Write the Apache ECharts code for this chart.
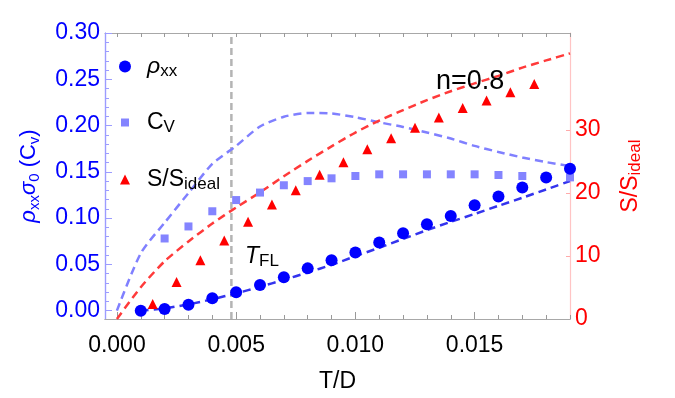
<!DOCTYPE html>
<html>
<head>
<meta charset="utf-8">
<script src="https://cdn.jsdelivr.net/npm/echarts@6/dist/echarts.min.js"></script>
<style>
  html, body { margin: 0; padding: 0; background: #fff; }
  #chart { width: 675px; height: 398px; }
</style>
</head>
<body>
<div id="chart"></div>
<script>
// values
const tRho = [0.001, 0.002, 0.003, 0.004, 0.005, 0.006, 0.007, 0.008, 0.009, 0.010,
  0.011, 0.012, 0.013, 0.014, 0.015, 0.016, 0.017, 0.018, 0.019];
const rho = [0.000, 0.0018, 0.0065, 0.0134, 0.0198, 0.0277, 0.036, 0.0457, 0.0546, 0.0629,
  0.0737, 0.0837, 0.0934, 0.1024, 0.1139, 0.1233, 0.133, 0.1438, 0.1534];
const rhoFit = [0.000, 0.0025, 0.0068, 0.0124, 0.0187, 0.0258, 0.0333, 0.0412, 0.0495, 0.0588,
  0.068, 0.0775, 0.087, 0.096, 0.1045, 0.1133, 0.122, 0.131, 0.140];

const tCv = [0.002, 0.003, 0.004, 0.005, 0.006, 0.007, 0.008, 0.009, 0.010,
  0.011, 0.012, 0.013, 0.014, 0.015, 0.016, 0.017, 0.018, 0.019];
const cv = [0.078, 0.091, 0.1074, 0.1195, 0.1276, 0.1355, 0.140, 0.143, 0.1455,
  0.1473, 0.1473, 0.1473, 0.1473, 0.1473, 0.1466, 0.1455, 0.1446, 0.144];

const tFit = [0, 0.001, 0.002, 0.003, 0.004, 0.005, 0.006, 0.007, 0.008, 0.009, 0.010,
  0.011, 0.012, 0.013, 0.014, 0.015, 0.016, 0.017, 0.018, 0.019];
const cvFit = [0, 0.062, 0.095, 0.127, 0.1585, 0.178, 0.199, 0.2095, 0.2135, 0.213, 0.209,
  0.2035, 0.1985, 0.1925, 0.186, 0.178, 0.1715, 0.1655, 0.1605, 0.1562];
const sFit = [0, 5.05, 9.16, 12.3, 15.16, 17.7, 20.1, 22.66, 25.1, 27.4, 29.6,
  31.5, 33.16, 34.74, 36.16, 37.4, 38.6, 39.9, 41.05, 42.16];

const tS = [0.0015, 0.0025, 0.0035, 0.0045, 0.0055, 0.0065, 0.0075, 0.0085, 0.0095,
  0.0105, 0.0115, 0.0125, 0.0135, 0.0145, 0.0155, 0.0165, 0.0175];
const sRatio = [2.37, 5.89, 9.32, 12.47, 15.43, 18.16, 20.42, 22.9, 24.9,
  26.95, 28.7, 30.37, 32.0, 33.5, 34.7, 36.0, 37.3];

const tFL = 0.0048;

// ticks
const xMajor = [0, 0.005, 0.010, 0.015];
const xMinor = tFit;
const yMajor = [0, 0.05, 0.10, 0.15, 0.20, 0.25, 0.30];
const yMinor = [0, 0.01, 0.02, 0.03, 0.04, 0.05, 0.06, 0.07, 0.08, 0.09, 0.10,
  0.11, 0.12, 0.13, 0.14, 0.15, 0.16, 0.17, 0.18, 0.19, 0.20,
  0.21, 0.22, 0.23, 0.24, 0.25, 0.26, 0.27, 0.28, 0.29, 0.30];
const sMajor = [0, 10, 20, 30];
const sTicks = [10, 20, 30];

const xRange = [-0.0005, 0.019];
const yRange = [-0.009, 0.30];
const sRange = [0, 45.4];

const FONT = "'Liberation Sans', Arial, sans-serif";
const pairs = (xs, ys) => xs.map((x, i) => [x, ys[i]]);

const subRich = (color, main, sub) => ({
  m: { fontSize: main, lineHeight: 26, color, fontFamily: FONT },
  i: { fontSize: main, lineHeight: 26, color, fontFamily: FONT, fontStyle: 'italic' },
  s: { fontSize: sub, lineHeight: 8, color, fontFamily: FONT, verticalAlign: 'bottom' }
});

const legendLabels = {
  rho: '{g|}{i|ρ}{s|xx}',
  cv: '{g|}{m|C}{s|V}',
  s: '{g|}{m|S/S}{s|ideal}'
};
const makeLegend = (name, icon, size, cy) => ({
  orient: 'vertical',
  left: 125 - size / 2,
  top: cy - 13,
  padding: 0,
  itemWidth: size,
  itemHeight: size,
  selectedMode: false,
  data: [{ name, icon }],
  formatter: (n) => legendLabels[n],
  textStyle: {
    rich: Object.assign(subRich('#000', 23, 17), { g: { width: 17 - size / 2 } })
  }
});

const chart = echarts.init(document.getElementById('chart'));

const xBase = {
  type: 'value', min: xRange[0], max: xRange[1],
  splitLine: { show: false },
  axisLine: { show: true, onZero: false, lineStyle: { color: '#a8a8a8', width: 1 } }
};
const yBase = {
  type: 'value', min: yRange[0], max: yRange[1], position: 'left',
  splitLine: { show: false },
  axisLine: { show: true, onZero: false, lineStyle: { color: '#9c9cff', width: 1.2 } }
};

chart.setOption({
  animation: false,
  backgroundColor: '#fff',
  grid: { left: 105, right: 105, top: 33, bottom: 78 },
  legend: [
    makeLegend('rho', 'circle', 12, 68),
    makeLegend('cv', 'rect', 8, 124),
    makeLegend('s', 'triangle', 10, 181)
  ],
  xAxis: [
    Object.assign({}, xBase, {
      position: 'bottom',
      axisTick: { show: true, inside: true, length: 7, customValues: xMajor, lineStyle: { color: '#999' } },
      axisLabel: {
        customValues: xMajor, formatter: (v) => v.toFixed(3),
        color: '#000', fontSize: 23, margin: 15, fontFamily: FONT
      },
      name: 'T/D', nameLocation: 'middle', nameGap: 51,
      nameTextStyle: { color: '#000', fontSize: 23, fontFamily: FONT }
    }),
    Object.assign({}, xBase, {
      position: 'bottom',
      axisTick: { show: true, inside: true, length: 4, customValues: xMinor, lineStyle: { color: '#999' } },
      axisLabel: { show: false }
    }),
    Object.assign({}, xBase, {
      position: 'top',
      axisTick: { show: true, inside: true, length: 4, customValues: xMinor, lineStyle: { color: '#999' } },
      axisLabel: { show: false }
    })
  ],
  yAxis: [
    Object.assign({}, yBase, {
      axisTick: { show: true, inside: true, length: 7, customValues: yMajor, lineStyle: { color: '#9c9cff' } },
      axisLabel: {
        customValues: yMajor, formatter: (v) => v.toFixed(2),
        color: '#0000ff', fontSize: 23, margin: 5, fontFamily: FONT
      },
      name: '{i|ρ}{s|xx}{i|σ}{s|0}{m| (C}{s|v}{m|)}',
      nameLocation: 'middle', nameRotate: 90, nameGap: 63, nameMoveOverlap: false,
      nameTextStyle: { rich: subRich('#0000ff', 22, 15) }
    }),
    {
      type: 'value', position: 'right', min: sRange[0], max: sRange[1],
      splitLine: { show: false },
      axisLine: { show: true, onZero: false, lineStyle: { color: '#ffc4c4', width: 1.2 } },
      axisTick: { show: true, inside: true, length: 4, customValues: sTicks, lineStyle: { color: '#ffaaaa' } },
      axisLabel: {
        customValues: sMajor, formatter: (v) => String(v),
        color: '#ff0000', fontSize: 23, margin: 5, fontFamily: FONT
      },
      name: '{m|S/S}{s|ideal}',
      nameLocation: 'middle', nameRotate: 90, nameGap: 48,
      nameTextStyle: { rich: subRich('#ff0000', 23, 17) }
    },
    Object.assign({}, yBase, {
      axisTick: { show: true, inside: true, length: 4, customValues: yMinor, lineStyle: { color: '#9c9cff' } },
      axisLabel: { show: false }
    })
  ],
  series: [
    {
      name: 'tfl', type: 'line', yAxisIndex: 0, symbol: 'none', silent: true, z: 1,
      data: [[tFL, yRange[0]], [tFL, yRange[1]]],
      lineStyle: { color: '#b4b4b4', width: 2.5, type: [7, 4] }
    },
    {
      name: 'cvFit', type: 'line', yAxisIndex: 0, symbol: 'none', smooth: 0.25, z: 2,
      data: pairs(tFit, cvFit),
      lineStyle: { color: '#8080ff', width: 2.5, type: [8, 5] }
    },
    {
      name: 'sFit', type: 'line', yAxisIndex: 1, symbol: 'none', smooth: 0.25, z: 2,
      data: pairs(tFit, sFit),
      lineStyle: { color: '#ff3a3a', width: 2.5, type: [8, 5] }
    },
    {
      name: 'rhoFit', type: 'line', yAxisIndex: 0, symbol: 'none', smooth: 0.25, z: 2,
      data: pairs(tRho, rhoFit),
      lineStyle: { color: '#3434ee', width: 2.5, type: [8, 5] }
    },
    {
      name: 'cv', type: 'scatter', yAxisIndex: 0, symbol: 'rect', symbolSize: 8, z: 3,
      data: pairs(tCv, cv),
      itemStyle: { color: '#8484ff', opacity: 1 }
    },
    {
      name: 's', type: 'scatter', yAxisIndex: 1, symbol: 'triangle', symbolSize: 10, z: 3,
      data: pairs(tS, sRatio),
      itemStyle: { color: '#ff0000', opacity: 1 }
    },
    {
      name: 'rho', type: 'scatter', yAxisIndex: 0, symbol: 'circle', symbolSize: 12, z: 4,
      data: pairs(tRho, rho),
      itemStyle: { color: '#0000ff', opacity: 1 }
    }
  ],
  graphic: [
    {
      type: 'text', left: 436, top: 68, z: 10,
      style: { text: 'n=0.8', fontSize: 27, fill: '#000', fontFamily: FONT }
    },
    {
      type: 'text', left: 245, top: 245, z: 10,
      style: {
        text: '{i|T}{s|FL}',
        rich: subRich('#000', 23, 17)
      }
    }
  ]
});
</script>
</body>
</html>
